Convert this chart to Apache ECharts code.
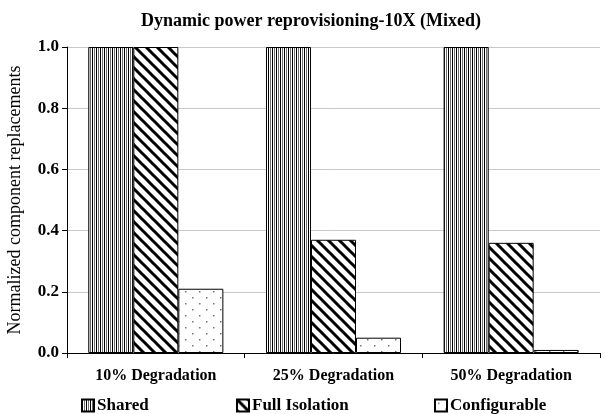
<!DOCTYPE html>
<html>
<head>
<meta charset="utf-8">
<script src="https://cdn.jsdelivr.net/npm/echarts@6/dist/echarts.min.js"></script>
<style>
  html, body { margin: 0; padding: 0; background: #fff; }
  #chart { width: 605px; height: 414px; }
</style>
</head>
<body>
<div id="chart"></div>
<script>
var categories = ['10% Degradation', '25% Degradation', '50% Degradation'];
var seriesNames = ['Shared', 'Full Isolation', 'Configurable'];
var sharedValues = [1.0, 1.0, 1.0];
var isolationValues = [1.0, 0.37, 0.36];
var configurableValues = [0.21, 0.05, 0.01];
var yTicks = [0.0, 0.2, 0.4, 0.6, 0.8, 1.0];

var serif = '"Liberation Serif", "DejaVu Serif", serif';

// fill patterns, drawn on small canvases
function verticalLines() {
    var c = document.createElement('canvas');
    c.width = 4; c.height = 4;
    var ctx = c.getContext('2d');
    ctx.fillStyle = '#fff';
    ctx.fillRect(0, 0, 4, 4);
    ctx.fillStyle = '#000';
    ctx.fillRect(0, 0, 1, 4);
    ctx.fillStyle = '#707070';
    ctx.fillRect(2, 0, 1, 4);
    return c;
}

function diagonalLines() {
    var s = 11;
    var c = document.createElement('canvas');
    c.width = s; c.height = s;
    var ctx = c.getContext('2d');
    ctx.fillStyle = '#fff';
    ctx.fillRect(0, 0, s, s);
    ctx.strokeStyle = '#000';
    ctx.lineWidth = 3;
    ctx.beginPath();
    ctx.moveTo(-2, -2); ctx.lineTo(s + 2, s + 2);
    ctx.moveTo(-2 - s, -2); ctx.lineTo(2, s + 2);
    ctx.moveTo(s - 2, -2); ctx.lineTo(2 * s + 2, s + 2);
    ctx.stroke();
    return c;
}

function dots() {
    var c = document.createElement('canvas');
    c.width = 14; c.height = 12;
    var ctx = c.getContext('2d');
    ctx.fillStyle = '#fff';
    ctx.fillRect(0, 0, 14, 12);
    ctx.fillStyle = '#777';
    ctx.fillRect(3, 3, 1.5, 1.5);
    ctx.fillRect(10, 9, 1.5, 1.5);
    return c;
}

var fills = [verticalLines(), diagonalLines(), dots()];
var values = [sharedValues, isolationValues, configurableValues];

var myChart = echarts.init(document.getElementById('chart'));

var series = [];
for (var i = 0; i < seriesNames.length; i++) {
    series.push({
        name: seriesNames[i],
        type: 'bar',
        barGap: '0%',
        barCategoryGap: '24%',
        data: values[i],
        itemStyle: {
            color: { image: fills[i], repeat: 'repeat' },
            borderColor: '#000',
            borderWidth: 1
        }
    });
}

var legendLeft = [76, 231, 429];
var legends = [];
for (var j = 0; j < seriesNames.length; j++) {
    legends.push({
        data: [seriesNames[j]],
        left: legendLeft[j],
        top: 392,
        itemWidth: 12,
        itemHeight: 12,
        itemGap: 4,
        icon: 'rect',
        selectedMode: false,
        textStyle: { fontFamily: serif, fontWeight: 'bold', fontSize: 17, color: '#000', padding: [0, 0, 0, -2] }
    });
}

var option = {
    animation: false,
    title: {
        text: 'Dynamic power reprovisioning-10X (Mixed)',
        left: 306,
        textAlign: 'center',
        top: 7,
        textStyle: { fontFamily: serif, fontWeight: 'bold', fontSize: 18, color: '#000' }
    },
    legend: legends,
    grid: { left: 67, right: 5, top: 47, bottom: 61, outerBoundsMode: 'none', containLabel: false },
    xAxis: {
        type: 'category',
        data: categories,
        axisLine: { lineStyle: { color: '#000', width: 1 } },
        axisTick: { show: true, length: 5, lineStyle: { color: '#000' } },
        axisLabel: { fontFamily: serif, fontWeight: 'bold', fontSize: 16, color: '#000', margin: 15 }
    },
    yAxis: {
        type: 'value',
        min: yTicks[0],
        max: yTicks[yTicks.length - 1],
        interval: 0.2,
        name: 'Normalized component replacements',
        nameLocation: 'middle',
        nameGap: 43,
        nameTextStyle: { fontFamily: serif, fontSize: 18, color: '#000' },
        axisLine: { show: true, lineStyle: { color: '#000', width: 1 } },
        axisTick: { show: true, length: 5, lineStyle: { color: '#000' } },
        splitLine: { lineStyle: { color: '#c8c8c8', width: 1 } },
        axisLabel: {
            fontFamily: serif, fontWeight: 'bold', fontSize: 17, color: '#000', margin: 8,
            formatter: function (v) { return v.toFixed(1); }
        }
    },
    series: series
};

myChart.setOption(option);
</script>
</body>
</html>
